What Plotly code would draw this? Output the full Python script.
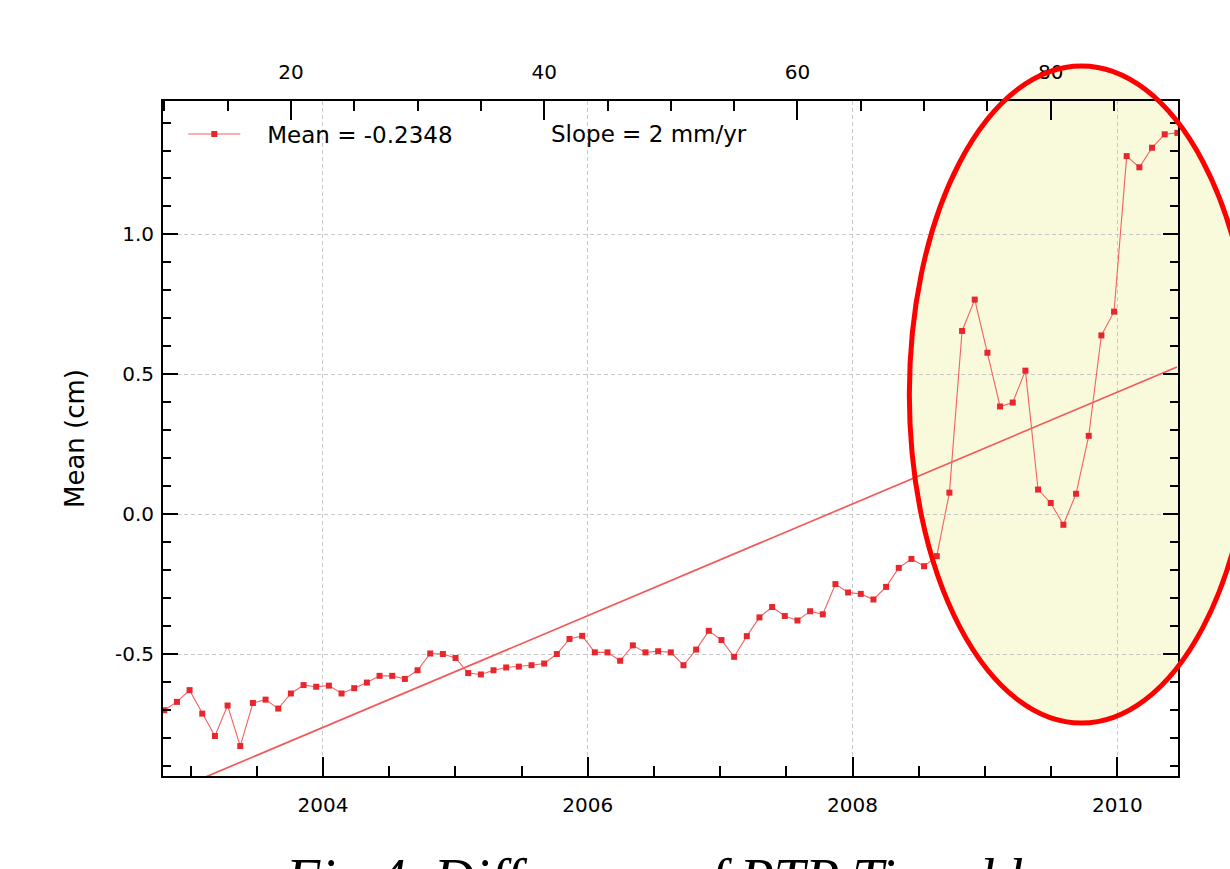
import plotly.graph_objects as go

# ---- data ----
cycles = list(range(10, 91))  # Envisat cycle number (top axis)
mean_cm = [
    -0.701, -0.671, -0.629, -0.713, -0.793, -0.684, -0.829, -0.675, -0.663, -0.695,
    -0.641, -0.611, -0.617, -0.613, -0.641, -0.622, -0.602, -0.578, -0.578, -0.589,
    -0.558, -0.498, -0.500, -0.514, -0.568, -0.573, -0.558, -0.548, -0.545, -0.540,
    -0.534, -0.500, -0.446, -0.435, -0.494, -0.494, -0.524, -0.469, -0.494, -0.490,
    -0.494, -0.540, -0.484, -0.417, -0.450, -0.510, -0.436, -0.369, -0.332, -0.364,
    -0.380, -0.347, -0.358, -0.250, -0.280, -0.285, -0.305, -0.260, -0.192, -0.160,
    -0.186, -0.150, 0.077, 0.655, 0.767, 0.577, 0.385, 0.399, 0.513, 0.088,
    0.040, -0.038, 0.073, 0.280, 0.639, 0.724, 1.280, 1.240, 1.310, 1.358,
    1.363,
]
trend_years = [2002.80, 2010.45]
trend_cm = [-1.002, 0.526]

year_range = [2002.792, 2010.458]
cycle_range = [9.9, 90.05]
y_range = [-0.936, 1.477]

year_ticks = [2004, 2006, 2008, 2010]
year_labels = ["2004", "2006", "2008", "2010"]
cycle_ticks = [20, 40, 60, 80]
cycle_labels = ["20", "40", "60", "80"]
y_ticks = [-0.5, 0.0, 0.5, 1.0]
y_labels = ["-0.5", "0.0", "0.5", "1.0"]

legend_text = "Mean = -0.2348"
slope_text = "Slope = 2 mm/yr"
y_title = "Mean (cm)"
caption = "Fig 4. Difference of PTP Tian d l"

FONT = "DejaVu Sans"
LINE_RED = "#f26262"
MARK_RED = "#e8262e"
GRID = "#c8c8c8"

fig = go.Figure()

fig.add_trace(go.Scatter(
    x=trend_years, y=trend_cm, xaxis="x", yaxis="y",
    mode="lines", line=dict(color="#f25a5a", width=1.7),
    showlegend=False, hoverinfo="skip",
))

fig.add_trace(go.Scatter(
    x=cycles, y=mean_cm, xaxis="x2", yaxis="y",
    mode="lines+markers", name="&nbsp;&nbsp;&nbsp;" + legend_text,
    line=dict(color=LINE_RED, width=1.1),
    marker=dict(symbol="square", size=6, color=MARK_RED, line=dict(width=0)),
))

tick_font = dict(family=FONT, size=20, color="black")

fig.update_layout(
    width=1230, height=869,
    margin=dict(l=163, r=51.7, t=101, b=92.5, autoexpand=False),
    paper_bgcolor="white", plot_bgcolor="rgba(0,0,0,0)",
    font=dict(family=FONT, color="black"),
    showlegend=True,
    legend=dict(
        x=0.02, y=0.951, xanchor="left", yanchor="middle",
        orientation="h", font=dict(family=FONT, size=23, color="black"),
        bgcolor="rgba(0,0,0,0)", itemwidth=52,
    ),
    xaxis=dict(
        range=year_range, tickmode="array", tickvals=year_ticks, ticktext=year_labels,
        ticks="inside", ticklen=19, tickwidth=2, tickcolor="black",
        showline=True, linecolor="black", linewidth=2, mirror=False,
        showgrid=True, gridcolor=GRID, griddash="4px,3px", gridwidth=1,
        zeroline=False, tickfont=tick_font, ticklabelstandoff=10,
        minor=dict(dtick=0.5, tick0=2000, ticks="inside", ticklen=10, tickwidth=2,
                   tickcolor="black", showgrid=False),
    ),
    xaxis2=dict(
        range=cycle_range, overlaying="x", side="top", anchor="y",
        tickmode="array", tickvals=cycle_ticks, ticktext=cycle_labels,
        ticks="inside", ticklen=19, tickwidth=2, tickcolor="black",
        showline=True, linecolor="black", linewidth=2,
        showgrid=False, zeroline=False, tickfont=tick_font, ticklabelstandoff=12,
        minor=dict(dtick=5, tick0=0, ticks="inside", ticklen=10, tickwidth=2,
                   tickcolor="black", showgrid=False),
    ),
    yaxis=dict(
        range=y_range, tickmode="array", tickvals=y_ticks, ticktext=y_labels,
        ticks="inside", ticklen=15, tickwidth=2, tickcolor="black",
        showline=True, linecolor="black", linewidth=2, mirror="ticks",
        showgrid=True, gridcolor=GRID, griddash="4px,3px", gridwidth=1,
        zeroline=False, tickfont=tick_font, ticklabelstandoff=3,
        title=dict(text=y_title, font=dict(family=FONT, size=26, color="black"), standoff=23),
        minor=dict(dtick=0.1, tick0=0, ticks="inside", ticklen=8, tickwidth=2,
                   tickcolor="black", showgrid=False),
    ),
)

# highlight ellipse: fill below the data, outline on top
ell = dict(type="circle", xref="paper", yref="paper",
           x0=0.7353, x1=1.0745, y0=0.0785, y1=1.0518)
fig.add_shape(**ell, layer="below", fillcolor="#f9f9dc", line=dict(width=0))
fig.add_shape(**ell, layer="above", fillcolor="rgba(0,0,0,0)", line=dict(color="#ff0000", width=5))

fig.add_annotation(
    text=slope_text, xref="paper", yref="paper", x=0.3802, y=0.951,
    xanchor="left", yanchor="middle", showarrow=False,
    font=dict(family=FONT, size=23, color="black"),
)

fig.add_annotation(
    text="<i>" + caption + "</i>", xref="paper", yref="paper", x=0.118, y=-0.103,
    xanchor="left", yanchor="top", showarrow=False,
    font=dict(family="Liberation Serif", size=56, color="black"),
)

fig.write_html(
    "out.html",
    config={"displayModeBar": False},
    post_script="document.body.style.margin='0';document.body.style.overflow='hidden';",
)
